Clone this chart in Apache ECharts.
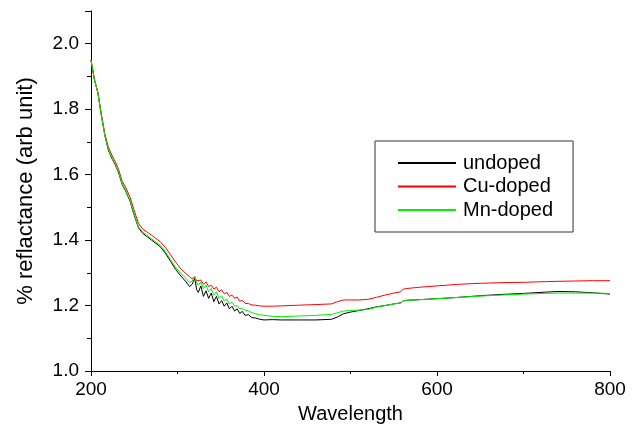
<!DOCTYPE html>
<html>
<head>
<meta charset="utf-8">
<script src="https://cdn.jsdelivr.net/npm/echarts@6/dist/echarts.min.js"></script>
<style>
  html, body { margin: 0; padding: 0; background: #fff; }
  #chart { width: 638px; height: 432px; }
</style>
</head>
<body>
<div id="chart"></div>
<script>
/* data */
const wavelength = [200, 204, 208, 212, 216, 220, 224, 228, 232, 236, 240, 245, 250, 255, 260, 265, 270, 275, 280, 286,
    292, 298, 304, 310, 314, 317, 320, 322, 324, 327, 330, 333, 336, 339, 342, 345, 348, 351, 354, 357,
    360, 363, 366, 369, 372, 375, 378, 382, 386, 390, 395, 400, 410, 420, 440, 460, 478, 485, 492, 500,
    510, 520, 530, 540, 550, 558, 561, 565, 580, 600, 625, 650, 675, 700, 725, 740, 760, 780, 800];

const undoped = [1.95, 1.89, 1.85, 1.78, 1.72, 1.675, 1.65, 1.63, 1.605, 1.57, 1.55, 1.52, 1.475, 1.437, 1.42, 1.41, 1.40, 1.39, 1.38, 1.36,
    1.335, 1.31, 1.29, 1.272, 1.258, 1.265, 1.283, 1.25, 1.24, 1.26, 1.228, 1.245, 1.222, 1.238, 1.212, 1.228, 1.205, 1.215, 1.198, 1.208,
    1.19, 1.198, 1.183, 1.19, 1.176, 1.182, 1.17, 1.172, 1.163, 1.162, 1.158, 1.156, 1.157, 1.156, 1.156, 1.156, 1.158, 1.165, 1.175, 1.18,
    1.185, 1.19, 1.196, 1.2, 1.205, 1.208, 1.214, 1.216, 1.218, 1.221, 1.225, 1.23, 1.234, 1.237, 1.241, 1.243, 1.242, 1.239, 1.235];

const cuDoped = [1.95, 1.89, 1.85, 1.785, 1.725, 1.685, 1.66, 1.64, 1.615, 1.58, 1.562, 1.532, 1.49, 1.45, 1.433, 1.424, 1.415, 1.405, 1.395, 1.378,
    1.355, 1.332, 1.312, 1.297, 1.288, 1.282, 1.288, 1.275, 1.27, 1.278, 1.265, 1.272, 1.258, 1.262, 1.25, 1.256, 1.242, 1.248, 1.236, 1.24,
    1.228, 1.232, 1.222, 1.226, 1.213, 1.216, 1.207, 1.206, 1.202, 1.201, 1.199, 1.198, 1.198, 1.199, 1.201, 1.203, 1.205, 1.212, 1.217, 1.217,
    1.217, 1.219, 1.225, 1.232, 1.238, 1.242, 1.25, 1.252, 1.256, 1.26, 1.265, 1.268, 1.27, 1.271, 1.273, 1.274, 1.275, 1.276, 1.276];

const mnDoped = [1.95, 1.89, 1.85, 1.78, 1.72, 1.678, 1.652, 1.632, 1.607, 1.573, 1.553, 1.522, 1.478, 1.44, 1.424, 1.414, 1.404, 1.394, 1.384, 1.365,
    1.34, 1.316, 1.298, 1.282, 1.27, 1.275, 1.288, 1.27, 1.262, 1.272, 1.252, 1.262, 1.242, 1.252, 1.232, 1.242, 1.222, 1.23, 1.214, 1.22,
    1.205, 1.21, 1.198, 1.2, 1.19, 1.192, 1.186, 1.183, 1.178, 1.175, 1.172, 1.17, 1.167, 1.166, 1.168, 1.17, 1.173, 1.178, 1.183, 1.185,
    1.186, 1.188, 1.195, 1.2, 1.205, 1.208, 1.214, 1.216, 1.218, 1.221, 1.225, 1.229, 1.232, 1.235, 1.237, 1.238, 1.238, 1.238, 1.237];

const seriesNames = ['undoped', 'Cu-doped', 'Mn-doped'];
const seriesColors = ['#000000', '#ff0000', '#00f000'];
const seriesValues = [undoped, cuDoped, mnDoped];

const font = 'Arial, "Liberation Sans", sans-serif';

const chart = echarts.init(document.getElementById('chart'), null, { renderer: 'canvas' });

chart.setOption({
    animation: false,
    backgroundColor: '#ffffff',
    grid: { left: 91, right: 28, top: 11, bottom: 61 },
    legend: {
        orient: 'vertical',
        left: 375,
        top: 141,
        padding: [12, 20, 12, 22],
        borderColor: '#333333',
        borderWidth: 1,
        itemWidth: 58,
        itemHeight: 14,
        itemGap: 3.5,
        itemStyle: { opacity: 0 },
        textStyle: { fontFamily: font, fontSize: 20, color: '#000', padding: [0, 0, 0, 2] },
        data: seriesNames
    },
    xAxis: {
        type: 'value',
        min: 200,
        max: 800,
        interval: 200,
        name: 'Wavelength',
        nameLocation: 'middle',
        nameGap: 33,
        nameTextStyle: { fontFamily: font, fontSize: 20, color: '#000' },
        axisLine: { onZero: false, lineStyle: { color: '#000', width: 1 } },
        axisTick: { inside: false, length: 5, lineStyle: { color: '#000' } },
        minorTick: { show: true, splitNumber: 2, length: 3, lineStyle: { color: '#000' } },
        axisLabel: { fontFamily: font, fontSize: 19, color: '#000', margin: 9 },
        splitLine: { show: false }
    },
    yAxis: {
        type: 'value',
        min: 1.0,
        max: 2.1,
        interval: 0.2,
        name: '% reflactance (arb unit)',
        nameLocation: 'middle',
        nameGap: 54,
        nameTextStyle: { fontFamily: font, fontSize: 22, color: '#000' },
        axisLine: { show: true, onZero: false, lineStyle: { color: '#000', width: 1 } },
        axisTick: { inside: false, length: 6, lineStyle: { color: '#000' } },
        minorTick: { show: true, splitNumber: 2, length: 4, lineStyle: { color: '#000' } },
        axisLabel: {
            fontFamily: font, fontSize: 19, color: '#000', margin: 12,
            showMaxLabel: false,
            formatter: v => v.toFixed(1)
        },
        splitLine: { show: false }
    },
    series: seriesNames.map((name, i) => ({
        name: name,
        type: 'line',
        symbol: 'none',
        color: seriesColors[i],
        lineStyle: { width: 1, color: seriesColors[i] },
        data: wavelength.map((w, j) => [w, seriesValues[i][j]])
    }))
});
</script>
</body>
</html>
